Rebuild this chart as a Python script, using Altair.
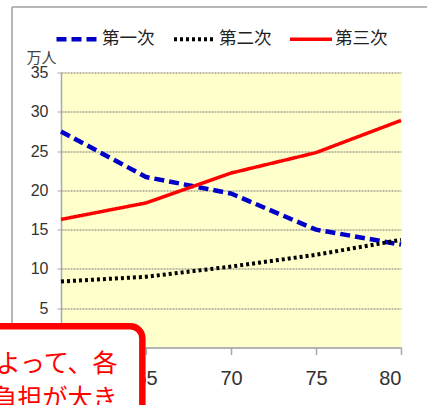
import altair as alt
import pandas as pd

# ---- data ----
years = [60, 65, 70, 75, 80]
primary = [27.5, 21.7, 19.6, 15.0, 13.1]      # 第一次
secondary = [8.4, 9.0, 10.3, 11.8, 13.7]      # 第二次
tertiary = [16.3, 18.4, 22.2, 24.8, 28.9]     # 第三次
series_names = ["第一次", "第二次", "第三次"]
y_ticks = [0, 5, 10, 15, 20, 25, 30, 35]
note_lines = ["よって、各", "負担が大き"]

rows = []
for name, vals in zip(series_names, [primary, secondary, tertiary]):
    for yr, v in zip(years, vals):
        rows.append({"year": yr, "value": v, "sector": name})
df = pd.DataFrame(rows)

JP = "Noto Sans CJK JP"
NUM = "Liberation Sans"

x_scale = alt.Scale(domain=[60, 80], nice=False, zero=False)
y_scale = alt.Scale(domain=[0, 35], nice=False)

x_axis = alt.Axis(values=years, format="d", title=None, grid=False,
                  domainColor="#a8a8a8", domainWidth=1.5,
                  tickColor="#a8a8a8", tickWidth=1.5, tickSize=7,
                  labelFont=NUM, labelFontSize=20, labelColor="#333333",
                  labelPadding=14)
y_axis = alt.Axis(values=y_ticks, title="万人", titleAngle=0,
                  titleAlign="center", titleBaseline="middle",
                  titleX=-20, titleY=-15, titleFont=JP, titleFontSize=15,
                  titleFontWeight="normal", titleColor="#444444",
                  grid=True, gridColor="#777777", gridDash=[2, 1], gridWidth=1,
                  domainColor="#a8a8a8", domainWidth=1.5,
                  tickColor="#a8a8a8", tickSize=4,
                  labelFont=NUM, labelFontSize=16, labelColor="#333333",
                  labelPadding=9)

lines = alt.Chart(df).mark_line(strokeCap="butt", strokeJoin="round").encode(
    x=alt.X("year:Q", scale=x_scale, axis=x_axis),
    y=alt.Y("value:Q", scale=y_scale, axis=y_axis),
    color=alt.Color("sector:N",
                    scale=alt.Scale(domain=series_names, range=["#0000c8", "#000000", "#ff0000"]),
                    legend=alt.Legend(title=None)),
    strokeDash=alt.StrokeDash("sector:N",
                              scale=alt.Scale(domain=series_names, range=[[10, 5], [3, 3], [1, 0]]),
                              legend=alt.Legend(title=None)),
    strokeWidth=alt.StrokeWidth("sector:N",
                                scale=alt.Scale(domain=series_names, range=[4.5, 3.5, 4]),
                                legend=None),
)

one = pd.DataFrame({"a": [0]})
frame_left = alt.Chart(one).mark_rule(color="#a0a0a0", strokeWidth=1.5).encode(
    x=alt.value(-49), y=alt.value(-65.5), y2=alt.value(400))
frame_top = alt.Chart(one).mark_rule(color="#a0a0a0", strokeWidth=1.5).encode(
    x=alt.value(-49), x2=alt.value(400), y=alt.value(-65.5))

box_df = pd.DataFrame({"year": [50], "year2": [64.785], "value": [-12], "value2": [2.7]})
box = alt.Chart(box_df).mark_rect(fill="white", stroke="#ff0000", strokeWidth=6.5,
                                  cornerRadius=12).encode(
    x=alt.X("year:Q", scale=x_scale, axis=x_axis), x2="year2:Q",
    y=alt.Y("value:Q", scale=y_scale, axis=y_axis), y2="value2:Q")

note_df = pd.DataFrame({"year": [63.32, 63.32], "value": [-2.1, -6.55], "t": note_lines})
note = alt.Chart(note_df).mark_text(align="right", baseline="middle", font=JP,
                                    fontSize=25, color="#ff0000").encode(
    x=alt.X("year:Q", scale=x_scale, axis=x_axis),
    y=alt.Y("value:Q", scale=y_scale, axis=y_axis),
    text="t:N")

chart = alt.layer(frame_left, frame_top, lines, box, note).properties(
    width=340, height=275,
    padding={"left": 61, "top": 72.5, "right": 26, "bottom": 57.5},
    autosize=alt.AutoSizeParams(type="none"),
    background="white",
).configure_view(fill="#ffffcc", strokeWidth=0).configure_legend(
    orient="none", legendX=-7, legendY=-57, direction="horizontal",
    symbolType="stroke", symbolSize=1764, symbolStrokeWidth=3.5,
    labelFont=JP, labelFontSize=17.5, labelColor="#222222", labelOffset=1,
    columnPadding=11, padding=0,
)

chart.save("out.html", embed_options={"renderer": "svg", "actions": False})
